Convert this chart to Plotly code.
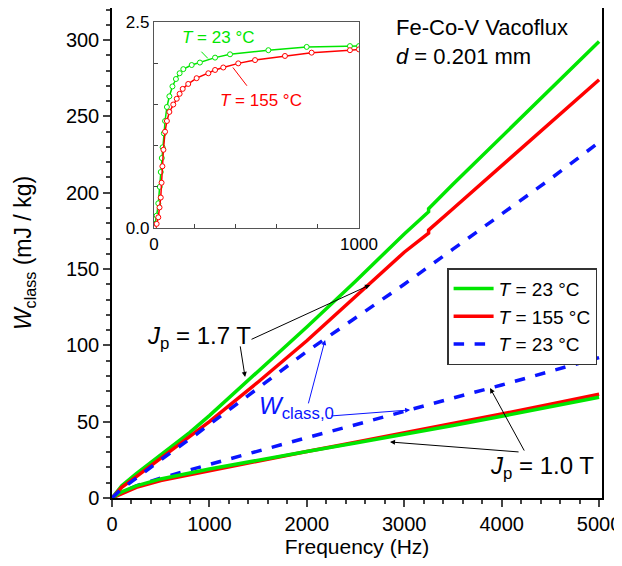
import plotly.graph_objects as go

# ---------------- data ----------------
freq_g17 = [0, 100, 250, 500, 800, 1000, 1500, 2000, 2500, 3000, 3250, 3250, 3500, 4000, 4500, 5000]
w_g17 = [0, 8, 16, 28, 43, 54, 83, 112, 142, 173, 187.5, 189.5, 205.5, 236.5, 268, 299]

freq_r17 = [0, 100, 250, 500, 800, 1000, 1500, 2000, 2500, 3000, 3250, 3250, 3500, 4000, 4500, 5000]
w_r17 = [0, 7, 14, 26, 40, 50, 76, 103, 132, 161, 173.5, 175.5, 189.5, 217.5, 245.5, 274]

freq_b17 = [0, 100, 250, 500, 850, 1000, 1500, 2000, 2170, 2500, 3000, 3500, 4000, 4500, 5000]
w_b17 = [0, 6, 13, 25, 41, 48, 72, 96, 103.5, 118, 140, 163, 186, 209, 233]

freq_g10 = [0, 100, 250, 500, 1000, 1500, 2000, 2500, 3000, 3500, 4000, 4500, 5000]
w_g10 = [0, 4, 8, 12.5, 19, 25, 30.5, 36, 41.5, 47.5, 53.5, 59.5, 66]

freq_r10 = [0, 100, 250, 500, 1000, 1500, 2000, 2500, 3000, 3500, 4000, 4500, 5000]
w_r10 = [0, 3, 7, 11.5, 18, 24.5, 30.5, 36.5, 42.5, 49, 55, 61.5, 68]

freq_b10 = [0, 100, 250, 500, 1000, 1500, 2000, 2500, 3000, 3500, 4000, 4500, 5000]
w_b10 = [0, 3.5, 8, 13, 22, 31, 39.5, 48, 57, 65.5, 74, 83, 92]

# inset J(H)
h_23 = [0, 5, 13, 21, 28, 33, 38, 42, 48, 54, 63, 75, 90, 107, 125, 143, 184, 224, 298, 371, 558, 745, 956, 1000]
j_23 = [0, 0.05, 0.15, 0.3, 0.5, 0.68, 0.85, 0.98, 1.15, 1.3, 1.47, 1.6, 1.72, 1.81, 1.88, 1.93, 1.98, 2.01, 2.07, 2.11, 2.16, 2.20, 2.21, 2.21]
h_155 = [0, 13, 21, 27, 33, 37, 41, 46, 54, 63, 75, 94, 111, 125, 140, 167, 208, 265, 298, 338, 411, 493, 639, 769, 956, 1000]
j_155 = [0, 0.05, 0.13, 0.25, 0.37, 0.55, 0.75, 0.95, 1.17, 1.3, 1.41, 1.5, 1.57, 1.63, 1.69, 1.75, 1.82, 1.88, 1.92, 1.95, 2.0, 2.04, 2.09, 2.13, 2.16, 2.17]

legend_names = ["<i>T</i> = 23 °C", "<i>T</i> = 155 °C", "<i>T</i> = 23 °C"]
x_ticks_main = [0, 1000, 2000, 3000, 4000, 5000]
y_ticks_main = [0, 50, 100, 150, 200, 250, 300]
inset_x_ticks = [0, 200, 400, 600, 800, 1000]
inset_x_text = ["0", "", "", "", "", "1000"]
inset_y_ticks = [0, 0.5, 1.0, 1.5, 2.0, 2.5]
inset_y_text = ["0.0", "", "", "", "", "2.5"]

GREEN = "#00e600"
RED = "#ff0000"
BLUE = "#0a14ff"
FONT = "Liberation Sans, Arial, sans-serif"

fig = go.Figure()

# 1.0 T lines first (beneath)
fig.add_trace(go.Scatter(x=freq_b10, y=w_b10, mode="lines", line=dict(color=BLUE, width=3.5, dash="dash"), showlegend=False))
fig.add_trace(go.Scatter(x=freq_r10, y=w_r10, mode="lines", line=dict(color=RED, width=3.5), showlegend=False))
fig.add_trace(go.Scatter(x=freq_g10, y=w_g10, mode="lines", line=dict(color=GREEN, width=3.5), showlegend=False))

fig.add_trace(go.Scatter(x=freq_g17, y=w_g17, mode="lines", line=dict(color=GREEN, width=3.5), name=legend_names[0]))
fig.add_trace(go.Scatter(x=freq_r17, y=w_r17, mode="lines", line=dict(color=RED, width=3.5), name=legend_names[1]))
fig.add_trace(go.Scatter(x=freq_b17, y=w_b17, mode="lines", line=dict(color=BLUE, width=3.5, dash="dash"), name=legend_names[2]))

# inset
fig.add_trace(go.Scatter(x=h_23, y=j_23, xaxis="x2", yaxis="y2", mode="lines+markers",
                         line=dict(color=GREEN, width=1.5),
                         marker=dict(symbol="circle", size=5, color="white", line=dict(color=GREEN, width=1)),
                         showlegend=False))
fig.add_trace(go.Scatter(x=h_155, y=j_155, xaxis="x2", yaxis="y2", mode="lines+markers",
                         line=dict(color=RED, width=1.5),
                         marker=dict(symbol="circle", size=5, color="white", line=dict(color=RED, width=1)),
                         showlegend=False))

annotations = []
# top-right text
annotations.append(dict(xref="paper", yref="paper", x=0.5755, y=0.99, xanchor="left", yanchor="top", align="left",
                        text="Fe-Co-V Vacoflux<br><i>d</i> = 0.201 mm", showarrow=False,
                        font=dict(size=22, color="black", family=FONT)))
# Jp=1.7 T label and arrows
annotations.append(dict(x=1450, y=105, xref="x", yref="y", xanchor="right", yanchor="middle",
                        text="<i>J</i><sub>p</sub> = 1.7 T", showarrow=False,
                        font=dict(size=24, color="black", family=FONT)))
annotations.append(dict(x=2649, y=139.6, ax=1417, ay=103.5, xref="x", yref="y", axref="x", ayref="y",
                        text="", showarrow=True, arrowhead=2, arrowsize=1, arrowwidth=1, arrowcolor="black"))
annotations.append(dict(x=1366, y=79.3, ax=1314, ay=100.3, xref="x", yref="y", axref="x", ayref="y",
                        text="", showarrow=True, arrowhead=2, arrowsize=1, arrowwidth=1, arrowcolor="black"))
# W_class,0 label and arrows
annotations.append(dict(x=1490, y=59, xref="x", yref="y", xanchor="left", yanchor="middle",
                        text="<i>W</i><sub>class,0</sub>", showarrow=False,
                        font=dict(size=24, color=BLUE, family=FONT)))
annotations.append(dict(x=2187, y=103.5, ax=2012, ay=61, xref="x", yref="y", axref="x", ayref="y",
                        text="", showarrow=True, arrowhead=2, arrowsize=1, arrowwidth=1, arrowcolor=BLUE))
annotations.append(dict(x=3060, y=57.7, ax=2238, ay=53.7, xref="x", yref="y", axref="x", ayref="y",
                        text="", showarrow=True, arrowhead=2, arrowsize=1, arrowwidth=1, arrowcolor=BLUE))
# Jp = 1.0 T label and arrows
annotations.append(dict(x=3860, y=20, xref="x", yref="y", xanchor="left", yanchor="middle",
                        text="<i>J</i><sub>p</sub> = 1.0 T", showarrow=False,
                        font=dict(size=24, color="black", family=FONT)))
annotations.append(dict(x=3881, y=72, ax=4240, ay=30.1, xref="x", yref="y", axref="x", ayref="y",
                        text="", showarrow=True, arrowhead=2, arrowsize=1, arrowwidth=1, arrowcolor="black"))
annotations.append(dict(x=2854, y=36.7, ax=4189, ay=30.1, xref="x", yref="y", axref="x", ayref="y",
                        text="", showarrow=True, arrowhead=2, arrowsize=1, arrowwidth=1, arrowcolor="black"))
# inset labels
annotations.append(dict(x=127, y=2.31, xref="x2", yref="y2", xanchor="left", yanchor="middle",
                        text="<i>T</i> = 23 °C", showarrow=False, font=dict(size=17, color=GREEN, family=FONT)))
annotations.append(dict(x=312, y=1.55, xref="x2", yref="y2", xanchor="left", yanchor="middle",
                        text="<i>T</i> = 155 °C", showarrow=False, font=dict(size=17, color=RED, family=FONT)))
annotations.append(dict(x=263, y=2.06, ax=224, ay=2.16, xref="x2", yref="y2", axref="x2", ayref="y2",
                        text="", showarrow=True, arrowhead=0, arrowwidth=1, arrowcolor=GREEN))
annotations.append(dict(x=385, y=1.95, ax=459, ay=1.71, xref="x2", yref="y2", axref="x2", ayref="y2",
                        text="", showarrow=True, arrowhead=0, arrowwidth=1, arrowcolor=RED))
annotations.append(dict(x=500, y=-0.12, xref="x2", yref="y2", xanchor="center", yanchor="middle",
                        text="<i>H</i> (A/m)", showarrow=False, font=dict(size=17, color="black", family=FONT)))
annotations.append(dict(x=-68, y=1.14, xref="x2", yref="y2", xanchor="center", yanchor="middle", textangle=-90,
                        text="<i>J</i> (T)", showarrow=False, font=dict(size=17, color="black", family=FONT)))

fig.update_layout(
    width=612, height=550,
    margin=dict(l=104, r=18, t=0, b=60),
    paper_bgcolor="white", plot_bgcolor="white",
    font=dict(family=FONT, size=20, color="black"),
    showlegend=True,
    legend=dict(x=0.99, y=0.469, xanchor="right", yanchor="top",
                bordercolor="#333333", borderwidth=1.5, bgcolor="white",
                font=dict(size=19, family=FONT, color="black"),
                tracegroupgap=0, itemwidth=40),
    xaxis=dict(range=[0, 5030], tickvals=x_ticks_main, ticks="outside", ticklen=7, tickwidth=1.5,
               showline=True, linecolor="black", linewidth=1.5, mirror=True, showgrid=False, zeroline=False,
               minor=dict(dtick=200, tick0=0, ticks="outside", ticklen=4, tickwidth=1.5, showgrid=False),
               title=dict(text="Frequency (Hz)", font=dict(size=21), standoff=8),
               tickfont=dict(size=20), automargin=False, ticklabeloverflow="allow"),
    yaxis=dict(range=[0, 321], tickvals=y_ticks_main, ticks="outside", ticklen=7, tickwidth=1.5,
               showline=True, linecolor="black", linewidth=1.5, mirror=True, showgrid=False, zeroline=False,
               minor=dict(dtick=10, tick0=0, ticks="outside", ticklen=4, tickwidth=1.5, showgrid=False),
               title=dict(text="<i>W</i><sub>class</sub> (mJ / kg)", font=dict(size=23), standoff=28),
               tickfont=dict(size=20), automargin=False),
    xaxis2=dict(domain=[0.0857, 0.504], anchor="y2", range=[0, 1000], tickvals=inset_x_ticks, ticktext=inset_x_text,
                ticks="inside", ticklen=4, tickwidth=1, showline=True, linecolor="#555555", linewidth=1.2,
                mirror=True, showgrid=False, zeroline=False, tickfont=dict(size=17), automargin=False),
    yaxis2=dict(domain=[0.551, 0.971], anchor="x2", range=[0, 2.5], tickvals=inset_y_ticks, ticktext=inset_y_text,
                ticks="inside", ticklen=4, tickwidth=1, showline=True, linecolor="#555555", linewidth=1.2,
                mirror=True, showgrid=False, zeroline=False, tickfont=dict(size=17), automargin=False),
    annotations=annotations,
)

fig.write_html("out.html")
